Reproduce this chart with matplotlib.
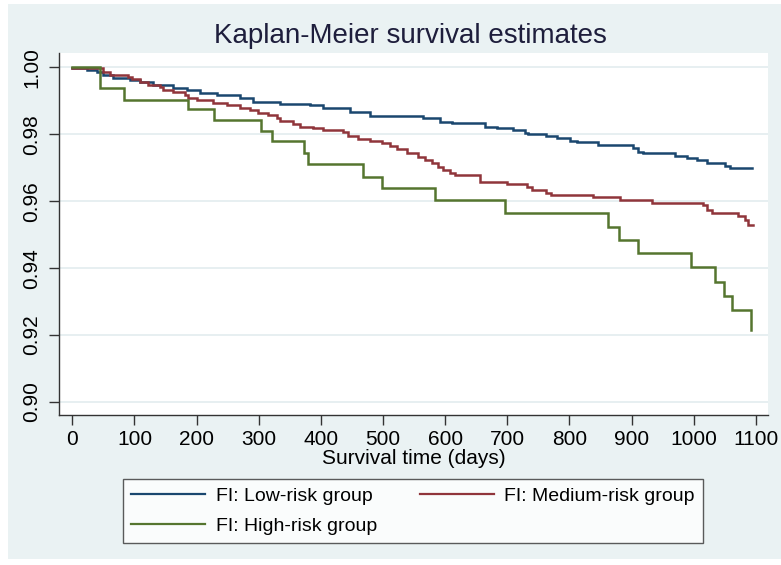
import matplotlib
matplotlib.use("Agg")
import matplotlib.pyplot as plt
from matplotlib.patches import Rectangle
from matplotlib.lines import Line2D

plt.rcParams['font.family'] = ['Liberation Sans Narrow', 'Liberation Sans', 'DejaVu Sans']

title = "Kaplan-Meier survival estimates"
xlabel = "Survival time (days)"
labels = ["FI: Low-risk group", "FI: Medium-risk group", "FI: High-risk group"]
xticks = [0, 100, 200, 300, 400, 500, 600, 700, 800, 900, 1000, 1100]
yticks = [0.90, 0.92, 0.94, 0.96, 0.98, 1.00]

# Low-risk group (step times in days, survival after step)
low_t = [0, 23, 39, 49, 66, 93, 109, 130, 162, 185, 205, 233, 270, 291, 334, 382, 404,
         447, 479, 564, 592, 611, 664, 683, 709, 729, 733, 763, 780, 801, 812, 846,
         902, 910, 918, 970, 989, 1005, 1021, 1050, 1058, 1093]
low_s = [0.9998, 0.9992, 0.9987, 0.9977, 0.9968, 0.9962, 0.9955, 0.9947, 0.9939, 0.9932,
         0.9924, 0.9917, 0.9909, 0.9897, 0.9892, 0.9887, 0.9879, 0.9867, 0.9855, 0.9848,
         0.9838, 0.9833, 0.9823, 0.9818, 0.9813, 0.9805, 0.9801, 0.9795, 0.9788, 0.9781,
         0.9776, 0.9768, 0.9758, 0.9748, 0.9743, 0.9735, 0.9728, 0.9723, 0.9713, 0.9705,
         0.9698, 0.9698]

# Medium-risk group
med_t = [0, 50, 61, 90, 96, 109, 122, 141, 146, 162, 181, 186, 200, 227, 249, 270, 286,
         299, 315, 329, 334, 355, 366, 387, 404, 436, 444, 460, 479, 498, 511, 522, 538,
         556, 567, 578, 589, 597, 608, 616, 656, 699, 731, 740, 763, 771, 838, 881, 932,
         1015, 1021, 1029, 1071, 1082, 1087, 1095]
med_s = [0.9997, 0.9987, 0.9977, 0.9972, 0.9964, 0.9955, 0.9947, 0.9940, 0.9932, 0.9925,
         0.9917, 0.9909, 0.9902, 0.9894, 0.9887, 0.9880, 0.9872, 0.9864, 0.9857, 0.9848,
         0.9840, 0.9831, 0.9823, 0.9818, 0.9813, 0.9808, 0.9795, 0.9785, 0.9780, 0.9773,
         0.9765, 0.9755, 0.9745, 0.9731, 0.9723, 0.9713, 0.9703, 0.9693, 0.9683, 0.9678,
         0.9658, 0.9651, 0.9641, 0.9633, 0.9625, 0.9618, 0.9613, 0.9604, 0.9594, 0.9589,
         0.9574, 0.9564, 0.9556, 0.9544, 0.9529, 0.9529]

# High-risk group
high_t = [0, 45, 83, 186, 228, 303, 322, 373, 379, 468, 498, 584, 697, 862, 880, 911,
          995, 1034, 1049, 1062, 1092]
high_s = [1.0, 0.9937, 0.9904, 0.9875, 0.9842, 0.9810, 0.9780, 0.9743, 0.9710, 0.9673,
          0.9639, 0.9604, 0.9564, 0.9524, 0.9484, 0.9444, 0.9403, 0.9359, 0.9317, 0.9275,
          0.9215]

colors = ["#1A476F", "#90353B", "#55752F"]

W, H = 781, 565
fig = plt.figure(figsize=(W / 100, H / 100), dpi=100, facecolor="white")
bg = Rectangle((8 / W, 6 / H), 1 - 8 / W, 1 - 10 / H, transform=fig.transFigure,
               facecolor="#EAF2F3", edgecolor="none", zorder=-10)
fig.patches.append(bg)

ax = fig.add_axes([59 / W, 1 - 415 / H, (768 - 59) / W, (415 - 53) / H])
ax.set_zorder(1)
ax.set_facecolor("white")

for t, s, c in zip([low_t, med_t, high_t], [low_s, med_s, high_s], colors):
    ax.step(t, s, where="post", color=c, lw=1.8, solid_joinstyle="miter", zorder=3)

ax.set_xlim(-21.4, 1119.4)
ax.set_ylim(0.8961, 1.0043)
ax.set_xticks(xticks)
ax.set_xticklabels([str(v) for v in xticks], fontsize=15)
ax.set_yticks(yticks)
ax.set_yticklabels([f"{v:.2f}" for v in yticks], fontsize=15, rotation=90, va="center")
ax.tick_params(axis="both", direction="out", length=7, width=1, color="#333333", pad=4)
ax.tick_params(axis="y", pad=6)
ax.yaxis.grid(True, color="#E3ECEF", lw=1.2, zorder=1)
ax.set_axisbelow(True)
for side in ["top", "right"]:
    ax.spines[side].set_visible(False)
for side in ["left", "bottom"]:
    ax.spines[side].set_color("#333333")
    ax.spines[side].set_linewidth(1)

ax.set_xlabel(xlabel, fontsize=15, labelpad=0)
fig.text(410 / W, 1 - 36 / H, title, fontsize=20, ha="center", va="center", color="#1E1E3C")

handles = [Line2D([], [], color=c, lw=1.6) for c in colors]
order_h = [handles[0], handles[2], handles[1]]
order_l = [labels[0], labels[2], labels[1]]
leg = fig.legend(order_h, order_l, loc="center", bbox_to_anchor=(413 / W, 1 - 511 / H),
                 ncol=2, fontsize=14, frameon=True, fancybox=False, handlelength=3.8,
                 handletextpad=0.55, columnspacing=2.2, labelspacing=0.65, borderpad=0.4)
leg.get_frame().set_edgecolor("#333333")
leg.get_frame().set_linewidth(1)

fig.savefig("out.png", dpi=100, facecolor="white")
